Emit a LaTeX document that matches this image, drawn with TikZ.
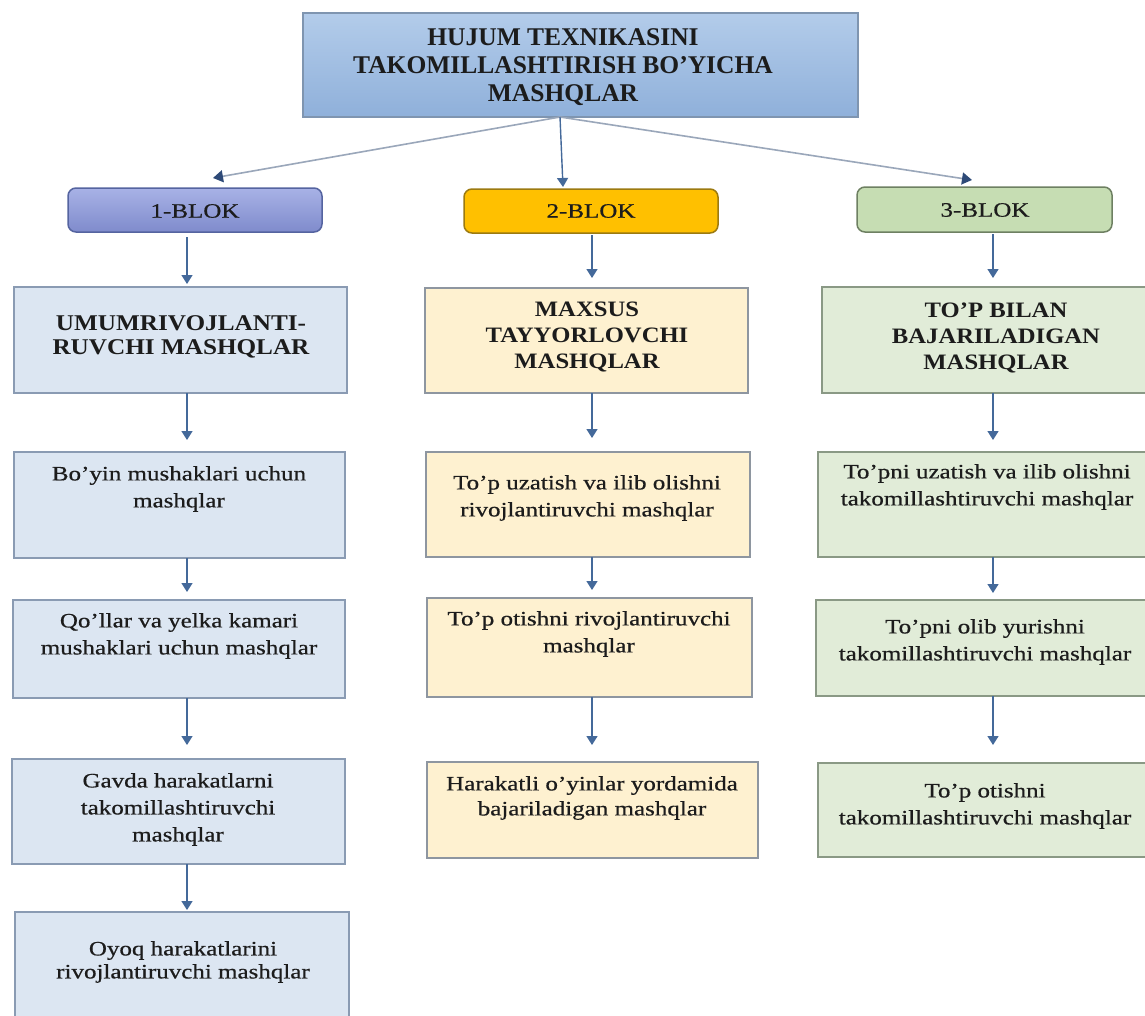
\documentclass[tikz,border=0pt]{standalone}
\usepackage{fontspec}
\setmainfont{Liberation Serif}
\newfontfamily\bodyf[FakeStretch=1.22,FakeBold=0.6]{Liberation Serif}
\newfontfamily\headf[FakeStretch=1.12]{Liberation Serif}
\usetikzlibrary{arrows.meta,calc}
\definecolor{topA}{HTML}{B3CCEA}
\definecolor{topB}{HTML}{8FB0DA}
\definecolor{topD}{HTML}{7F95B0}
\definecolor{bA}{HTML}{A8B2E6}
\definecolor{bB}{HTML}{7F8BCC}
\definecolor{bD}{HTML}{5564A0}
\definecolor{yA}{HTML}{FFC000}
\definecolor{yD}{HTML}{9C7A10}
\definecolor{gA}{HTML}{C6DDB3}
\definecolor{gD}{HTML}{6E8062}
\definecolor{c1F}{HTML}{DCE6F2}
\definecolor{c1D}{HTML}{8A9BB3}
\definecolor{c2F}{HTML}{FEF1D0}
\definecolor{c2D}{HTML}{8E96A0}
\definecolor{c3F}{HTML}{E1ECD8}
\definecolor{c3D}{HTML}{8A9985}
\definecolor{arC}{HTML}{44699A}
\definecolor{lnC}{HTML}{9AA7BA}
\definecolor{hdC}{HTML}{2E4A78}
\definecolor{txC}{HTML}{1C1C1C}
\begin{document}
\begin{tikzpicture}[x=1pt,y=-1pt,
  bx/.style={line width=1.5pt, inner sep=0pt, outer sep=0pt, anchor=north west},
  cone/.style={bx, draw=c1D, fill=c1F},
  ctwo/.style={bx, draw=c2D, fill=c2F},
  cthree/.style={bx, draw=c3D, fill=c3F},
  blk/.style={bx, rounded corners=8pt},
  arr/.style={draw=arC, line width=1.4pt, -{Triangle[length=9pt,width=11pt]}},
  tarr/.style={draw=lnC, line width=1.6pt, -{Triangle[length=10pt,width=12pt,color=hdC]}},
  tx/.style={text=txC, inner sep=0pt, anchor=north, align=center},
  body/.style={tx, font=\bodyf\fontsize{20.5}{27}\selectfont},
  head/.style={tx, font=\headf\bfseries\fontsize{22.5}{25}\selectfont},
]
\useasboundingbox (0,0) rectangle (1145,1015);
\fill[white] (0,0) rectangle (1145,1015);

% top box
\node[bx, draw=topD, top color=topA, bottom color=topB, minimum width=555pt, minimum height=104pt] (top) at (303,13) {};
\node[tx, font=\bfseries\fontsize{25.5}{28}\selectfont] (toptx) at (563,28) {HUJUM TEXNIKASINI\\TAKOMILLASHTIRISH BO’YICHA\\MASHQLAR};

% blocks
\node[blk, draw=bD, top color=bA, bottom color=bB, minimum width=254pt, minimum height=44pt] (b1) at (68,188) {};
\node[blk, draw=yD, fill=yA, minimum width=254pt, minimum height=44pt] (b2) at (464,189) {};
\node[blk, draw=gD, fill=gA, minimum width=255pt, minimum height=45pt] (b3) at (857,187) {};
\node[tx, font=\bodyf\fontsize{20.5}{24}\selectfont, anchor=center] (b1t) at (195,211) {1-BLOK};
\node[tx, font=\bodyf\fontsize{20.5}{24}\selectfont, anchor=center] (b2t) at (591,211) {2-BLOK};
\node[tx, font=\bodyf\fontsize{20.5}{24}\selectfont, anchor=center] (b3t) at (985,210) {3-BLOK};

% column 1
\node[cone, minimum width=333pt, minimum height=106pt] (u0) at (14,287) {};
\node[cone, minimum width=331pt, minimum height=106pt] (u1) at (14,452) {};
\node[cone, minimum width=332pt, minimum height=98pt] (u2) at (13,600) {};
\node[cone, minimum width=333pt, minimum height=105pt] (u3) at (12,759) {};
\node[cone, minimum width=334pt, minimum height=120pt] (u4) at (15,912) {};
\node[head, font=\headf\bfseries\fontsize{22.5}{24}\selectfont] (u0t) at (181,315) {UMUMRIVOJLANTI-\\RUVCHI MASHQLAR};
\node[body] (u1t) at (179,466) {Bo’yin mushaklari uchun\\mashqlar};
\node[body] (u2t) at (179,613) {Qo’llar va yelka kamari\\mushaklari uchun mashqlar};
\node[body] (u3t) at (178,773) {Gavda harakatlarni\\takomillashtiruvchi\\mashqlar};
\node[body, font=\bodyf\fontsize{20.5}{23}\selectfont] (u4t) at (183,941) {Oyoq harakatlarini\\rivojlantiruvchi mashqlar};

% column 2
\node[ctwo, minimum width=323pt, minimum height=105pt] (m0) at (425,288) {};
\node[ctwo, minimum width=324pt, minimum height=105pt] (m1) at (426,452) {};
\node[ctwo, minimum width=325pt, minimum height=99pt] (m2) at (427,598) {};
\node[ctwo, minimum width=331pt, minimum height=96pt] (m3) at (427,762) {};
\node[head, font=\headf\bfseries\fontsize{22}{26}\selectfont] (m0t) at (587,302) {MAXSUS\\TAYYORLOVCHI\\MASHQLAR};
\node[body] (m1t) at (587,475) {To’p uzatish va ilib olishni\\rivojlantiruvchi mashqlar};
\node[body] (m2t) at (589,611) {To’p otishni rivojlantiruvchi\\mashqlar};
\node[body, font=\bodyf\fontsize{20.5}{25}\selectfont] (m3t) at (592,776) {Harakatli o’yinlar yordamida\\bajariladigan mashqlar};

% column 3
\node[cthree, minimum width=340pt, minimum height=106pt] (t0) at (822,287) {};
\node[cthree, minimum width=342pt, minimum height=105pt] (t1) at (818,452) {};
\node[cthree, minimum width=344pt, minimum height=96pt] (t2) at (816,600) {};
\node[cthree, minimum width=342pt, minimum height=94pt] (t3) at (818,763) {};
\node[head, font=\headf\bfseries\fontsize{22}{26}\selectfont] (t0t) at (996,303) {TO’P BILAN\\BAJARILADIGAN\\MASHQLAR};
\node[body] (t1t) at (987,464) {To’pni uzatish va ilib olishni\\takomillashtiruvchi mashqlar};
\node[body] (t2t) at (985,619) {To’pni olib yurishni\\takomillashtiruvchi mashqlar};
\node[body] (t3t) at (985,783) {To’p otishni\\takomillashtiruvchi mashqlar};

% arrow columns and top connector ends
\coordinate (ax1) at (187,0);
\coordinate (ax2) at (592,0);
\coordinate (ax3) at (993,0);
\coordinate (src) at (560,117);
\coordinate (e1) at (213,178);
\coordinate (e2) at (563,187);
\coordinate (e3) at (972,180);

\draw[tarr] (src) -- (e1);
\draw[tarr] (src) -- (e3);
\draw[arr] (src) -- (e2);

\draw[arr, shorten <=5pt, shorten >=3pt] (b1.south -| ax1) -- (u0.north -| ax1);
\draw[arr, shorten >=12pt] (u0.south -| ax1) -- (u1.north -| ax1);
\draw[arr, shorten >=8pt] (u1.south -| ax1) -- (u2.north -| ax1);
\draw[arr, shorten >=14pt] (u2.south -| ax1) -- (u3.north -| ax1);
\draw[arr, shorten >=2pt] (u3.south -| ax1) -- (u4.north -| ax1);

\draw[arr, shorten <=2pt, shorten >=10pt] (b2.south -| ax2) -- (m0.north -| ax2);
\draw[arr, shorten >=14pt] (m0.south -| ax2) -- (m1.north -| ax2);
\draw[arr, shorten >=8pt] (m1.south -| ax2) -- (m2.north -| ax2);
\draw[arr, shorten >=17pt] (m2.south -| ax2) -- (m3.north -| ax2);

\draw[arr, shorten <=2pt, shorten >=9pt] (b3.south -| ax3) -- (t0.north -| ax3);
\draw[arr, shorten >=12pt] (t0.south -| ax3) -- (t1.north -| ax3);
\draw[arr, shorten >=7pt] (t1.south -| ax3) -- (t2.north -| ax3);
\draw[arr, shorten >=18pt] (t2.south -| ax3) -- (t3.north -| ax3);
\end{tikzpicture}
\end{document}
